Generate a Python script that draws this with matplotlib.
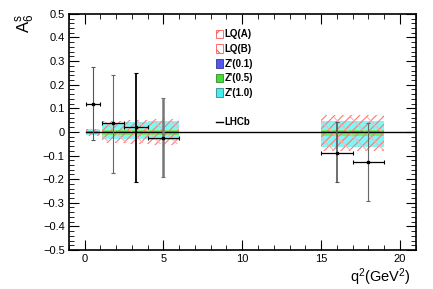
import numpy as np
import matplotlib.pyplot as plt
import matplotlib as mpl
from matplotlib.patches import Patch
from matplotlib.lines import Line2D

mpl.rcParams['font.family'] = ['Liberation Sans', 'DejaVu Sans']
mpl.rcParams['hatch.linewidth'] = 0.8

# q2 bins
bin_lo = [0.1, 1.1, 2.5, 4.0, 15.0, 17.0]
bin_hi = [0.98, 2.5, 4.0, 6.0, 17.0, 19.0]

# LHCb measurement
lhcb_x = [0.54, 1.8, 3.25, 5.0, 16.0, 18.0]
lhcb_y = [0.12, 0.037, 0.02, -0.027, -0.088, -0.128]
lhcb_up = [0.155, 0.205, 0.23, 0.17, 0.13, 0.165]
lhcb_dn = [0.155, 0.21, 0.23, 0.165, 0.125, 0.165]

# theory bands (low, high) per bin
lqa_lo = [-0.018, -0.045, -0.05, -0.055, -0.08, -0.08]
lqa_hi = [0.012, 0.045, 0.05, 0.055, 0.072, 0.072]
lqb_lo = [-0.015, -0.04, -0.045, -0.05, -0.075, -0.075]
lqb_hi = [0.01, 0.04, 0.045, 0.05, 0.065, 0.065]
z01_lo = [-0.003, -0.004, -0.004, -0.004, -0.005, -0.005]
z01_hi = [0.002, 0.003, 0.003, 0.003, 0.004, 0.004]
z05_lo = [-0.008, -0.012, -0.012, -0.012, -0.017, -0.017]
z05_hi = [0.005, 0.008, 0.008, 0.008, 0.01, 0.01]
z10_lo = [-0.015, -0.03, -0.032, -0.035, -0.062, -0.062]
z10_hi = [0.012, 0.038, 0.04, 0.045, 0.048, 0.048]

fig = plt.figure(figsize=(4.33, 2.89), dpi=100)
ax = fig.add_axes([0.159, 0.135, 0.801, 0.817])

for i in range(len(bin_lo)):
    w = bin_hi[i] - bin_lo[i]
    ax.bar(bin_lo[i], z10_hi[i] - z10_lo[i], width=w, bottom=z10_lo[i], align='edge',
           color='#7ff7f7', edgecolor='none', zorder=1)
    ax.bar(bin_lo[i], z05_hi[i] - z05_lo[i], width=w, bottom=z05_lo[i], align='edge',
           color='#77ee66', edgecolor='none', zorder=2)
    ax.bar(bin_lo[i], z01_hi[i] - z01_lo[i], width=w, bottom=z01_lo[i], align='edge',
           color='#8888ee', edgecolor='none', zorder=3)
    ax.bar(bin_lo[i], lqa_hi[i] - lqa_lo[i], width=w, bottom=lqa_lo[i], align='edge',
           facecolor='none', edgecolor='#ff7777', hatch='////', linewidth=0, zorder=4)
    ax.bar(bin_lo[i], lqb_hi[i] - lqb_lo[i], width=w, bottom=lqb_lo[i], align='edge',
           facecolor='none', edgecolor='#ffb0b0', hatch='\\\\', linewidth=0, zorder=4)

ax.plot([0.1, 21], [0, 0], color='black', lw=1.0, zorder=5)

xerr_lo = [lhcb_x[i] - bin_lo[i] for i in range(len(bin_lo))]
xerr_hi = [bin_hi[i] - lhcb_x[i] for i in range(len(bin_lo))]
vcols = ['#555555', '#666666', 'black', '#777777', '#555555', '#666666']
vlws = [0.8, 0.8, 1.3, 1.8, 1.2, 0.8]
for i in range(len(lhcb_x)):
    ax.errorbar(lhcb_x[i], lhcb_y[i], yerr=[[lhcb_dn[i]], [lhcb_up[i]]], fmt='none',
                ecolor=vcols[i], elinewidth=vlws[i], capsize=1.2, capthick=0.8, zorder=6)
    ax.errorbar(lhcb_x[i], lhcb_y[i], xerr=[[xerr_lo[i]], [xerr_hi[i]]], fmt='s',
                color='black', ms=1.8, elinewidth=0.9, capsize=1.2, capthick=0.8, zorder=7)

ax.set_xlim(-1, 21)
ax.set_ylim(-0.5, 0.5)
ax.set_xticks([0, 5, 10, 15, 20])
ax.set_xticks(np.arange(-1, 22, 1), minor=True)
yt = np.round(np.arange(-0.5, 0.51, 0.1), 1)
ax.set_yticks(yt)
ax.set_yticklabels(['0' if abs(v) < 1e-9 else ('%.1f' % v).replace('-', '\u2212') for v in yt])
ax.set_yticks(np.arange(-0.5, 0.51, 0.02), minor=True)
ax.tick_params(which='both', direction='in', top=True, right=True, labelsize=8, pad=3)
ax.tick_params(which='major', length=7, width=0.8)
ax.tick_params(which='minor', length=3.5, width=0.6)
for s in ax.spines.values():
    s.set_linewidth(1.2)

ax.text(-0.125, 1.0, r'$\mathregular{A_6^s}$', transform=ax.transAxes, rotation=90,
        ha='center', va='top', fontsize=12)
ax.text(0.985, -0.068, r'$\mathregular{q^2(GeV^2)}$', transform=ax.transAxes,
        ha='right', va='top', fontsize=10.5)

handles = [
    Patch(facecolor='white', edgecolor='#ff5555', hatch='//', lw=0.6),
    Patch(facecolor='white', edgecolor='#ff5555', hatch='\\\\', lw=0.6),
    Patch(facecolor='#5555ee', edgecolor='#333399', lw=0.6),
    Patch(facecolor='#44dd33', edgecolor='#338833', lw=0.6),
    Patch(facecolor='#44eeee', edgecolor='#338888', lw=0.6),
    Line2D([], [], color='none'),
    Line2D([], [], color='black', lw=1.0),
]
labels = ['LQ(A)', 'LQ(B)', "Z'(0.1)", "Z'(0.5)", "Z'(1.0)", ' ', 'LHCb']
leg = ax.legend(handles, labels, loc='upper left', bbox_to_anchor=(0.41, 0.955),
                frameon=False, fontsize=7, handlelength=0.7, handleheight=1.0,
                handletextpad=0.2, labelspacing=0.48, borderpad=0)
for t in leg.get_texts():
    t.set_fontweight('bold')

fig.savefig('out.png', dpi=100)
